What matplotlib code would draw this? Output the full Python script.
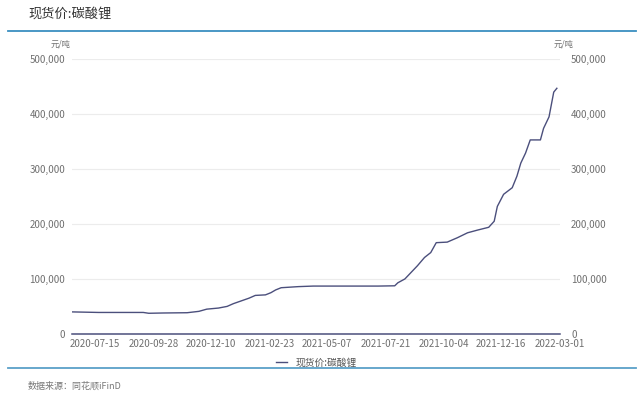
import matplotlib
matplotlib.use("Agg")
import matplotlib.pyplot as plt
import numpy as np
import pandas as pd

plt.rcParams['font.family'] = ['Noto Sans CJK SC', 'DejaVu Sans']

# spot price of lithium carbonate, yuan/ton
dates = ["2020-06-16", "2020-07-20", "2020-08-20", "2020-09-15", "2020-09-22",
         "2020-10-10", "2020-11-10", "2020-11-25", "2020-12-05", "2020-12-20",
         "2020-12-31", "2021-01-08", "2021-01-18", "2021-01-28", "2021-02-05",
         "2021-02-18", "2021-02-25", "2021-03-03", "2021-03-10", "2021-04-01",
         "2021-04-20", "2021-07-12", "2021-08-02", "2021-08-06", "2021-08-15",
         "2021-08-23", "2021-08-31", "2021-09-09", "2021-09-17", "2021-09-24",
         "2021-10-08", "2021-10-21", "2021-11-03", "2021-11-16", "2021-11-30",
         "2021-12-07", "2021-12-11", "2021-12-19", "2021-12-30", "2022-01-05",
         "2022-01-10", "2022-01-16", "2022-01-22", "2022-02-04", "2022-02-08",
         "2022-02-15", "2022-02-19", "2022-02-21", "2022-02-25"]
prices = [40000, 39000, 39000, 39000, 37500,
          38000, 38500, 41000, 45000, 47000,
          50000, 55000, 60000, 65000, 70000,
          71000, 75000, 80000, 84000, 86000,
          87000, 87000, 87500, 93000, 100000,
          112000, 124000, 139000, 148000, 166000,
          167000, 175000, 184000, 189000, 194000,
          205000, 232000, 254000, 266000, 287000,
          311000, 329000, 353000, 353000, 374000,
          395000, 425000, 440000, 447000]
tick_dates = ["2020-07-15", "2020-09-28", "2020-12-10", "2021-02-23", "2021-05-07",
              "2021-07-21", "2021-10-04", "2021-12-16", "2022-03-01"]
yticks = [0, 100000, 200000, 300000, 400000, 500000]
series_name = "现货价:碳酸锂"

x = pd.to_datetime(dates)
fig = plt.figure(figsize=(6.4, 3.97), dpi=100)
ax = fig.add_axes([0.1125, 0.159, 0.7625, 0.692])

line_c = "#4b4f7c"
ax.plot(x, prices, color=line_c, lw=1.0, label=series_name)
ax.set_ylim(0, 500000)
ax.set_xlim(pd.Timestamp("2020-06-16"), pd.Timestamp("2022-02-27"))
ax.set_yticks(yticks)
ax.set_yticklabels([f"{v:,}" for v in yticks])
ax.set_xticks(pd.to_datetime(tick_dates))
ax.set_xticklabels(tick_dates)
ax.grid(axis='y', color="#ececec", lw=0.8)
ax.set_axisbelow(True)
for s in ['top', 'right', 'left']:
    ax.spines[s].set_visible(False)
ax.spines['bottom'].set_color(line_c)
ax.spines['bottom'].set_linewidth(1.1)
ax.tick_params(axis='both', length=0, labelsize=7, colors="#707070")
ax.tick_params(axis='x', pad=4)
ax.tick_params(axis='y', pad=5)

ax2 = ax.twinx()
ax2.set_ylim(0, 500000)
ax2.set_yticks(yticks)
ax2.set_yticklabels([f"{v:,}" for v in yticks])
for s in ax2.spines.values():
    s.set_visible(False)
ax2.tick_params(axis='y', length=0, labelsize=7, colors="#707070", pad=8)

fig.text(0.094, 0.882, "元/吨", fontsize=6, color="#707070", ha='center')
fig.text(0.880, 0.882, "元/吨", fontsize=6, color="#707070", ha='center')

ax.legend(loc='upper center', bbox_to_anchor=(0.5, -0.055), frameon=False,
          fontsize=7, handlelength=1.2, labelcolor="#555555")

# header / footer
fig.text(0.044, 0.965, series_name, fontsize=9.5, color="#333333", va='center')
fig.add_artist(plt.Line2D([0.012, 0.994], [0.921, 0.921], color="#3a8fc0", lw=1.3))
fig.add_artist(plt.Line2D([0.012, 0.994], [0.073, 0.073], color="#5aa0c8", lw=1.3))
fig.text(0.044, 0.028, "数据来源：同花顺iFinD", fontsize=6.5, color="#777777", va='center')

fig.savefig("out.png", dpi=100)
